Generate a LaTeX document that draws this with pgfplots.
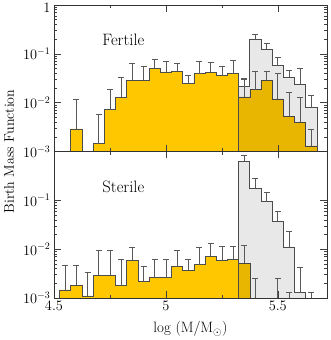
\documentclass[border=0pt]{standalone}
\usepackage{pgfplots}
\pgfplotsset{compat=1.18}
\usepgfplotslibrary{groupplots}
\definecolor{gold}{RGB}{255,199,0}
\begin{document}
\begin{tikzpicture}
\pgfplotsset{
  errb/.style={draw=none, mark=none, forget plot,
    error bars/.cd, y dir=plus, y explicit, error mark=|,
    error bar style={draw=black!65, line width=0.6pt, solid},
    error mark options={draw=black!65, mark size=3pt, line width=0.6pt, solid}},
  yel/.style={const plot, fill=gold, draw=black!70, line width=0.6pt},
  hat/.style={const plot, draw=black!70, line width=0.7pt,
    fill=black, fill opacity=0.09},
}
\begin{groupplot}[
  group style={group size=1 by 2, vertical sep=0pt},
  width=273pt, height=146.5pt, scale only axis,
  xmin=4.5, xmax=5.72, ymode=log, ymin=1e-3, ymax=1,
  xtick={4.5,5,5.5}, minor xtick={4.75,5.25},
  major tick length=7pt, minor tick length=3.5pt,
  tick style={black!75, line width=0.5pt},
  axis line style={black!80, line width=0.6pt},
  axis on top,
  ticklabel style={font=\fontsize{14.5}{16}\selectfont},
  label style={font=\fontsize{15}{17}\selectfont},
]
\nextgroupplot[xticklabels={}, ytick={1e-3,1e-2,1e-1,1},
  yticklabels={$10^{-3}$,$10^{-2}$,$10^{-1}$,\raisebox{-7pt}[0pt][0pt]{$1$}}]
\addplot[yel] coordinates {(4.575,0.001) (4.575,0.0029) (4.625,0.001) (4.675,0.00144)
  (4.725,0.0072) (4.775,0.0129) (4.825,0.0288) (4.875,0.0288) (4.925,0.0508)
  (4.975,0.0427) (5.025,0.0441) (5.075,0.0250) (5.125,0.0395) (5.175,0.042)
  (5.225,0.036) (5.275,0.0395) (5.325,0.0131) (5.375,0.0186) (5.425,0.0288)
  (5.475,0.0119) (5.525,0.0053) (5.575,0.0040) (5.625,0.0013) (5.675,0.001)} --cycle;
\addplot[hat] coordinates {(5.325,0.001) (5.325,0.0217) (5.375,0.200) (5.425,0.123)
  (5.475,0.0576) (5.525,0.0332) (5.575,0.024) (5.625,0.0079) (5.675,0.001)} --cycle;
\addplot[errb] coordinates {
  (4.60,0.0029) +- (0,0.0086)
  (4.70,0.00144) +- (0,0.00426)
  (4.75,0.0072) +- (0,0.0114)
  (4.80,0.0129) +- (0,0.0198)
  (4.85,0.0288) +- (0,0.0347)
  (4.90,0.0288) +- (0,0.0262)
  (4.95,0.0508) +- (0,0.0259)
  (5.00,0.0427) +- (0,0.027)
  (5.05,0.0441) +- (0,0.0209)
  (5.10,0.025) +- (0,0.011)
  (5.15,0.0395) +- (0,0.0325)
  (5.20,0.042) +- (0,0.0256)
  (5.25,0.036) +- (0,0.0207)
  (5.30,0.0395) +- (0,0.0347)
  (5.35,0.0131) +- (0,0.0169)
  (5.40,0.0186) +- (0,0.0254)
  (5.45,0.0288) +- (0,0.0142)
  (5.50,0.0119) +- (0,0.0276)
  (5.55,0.0053) +- (0,0.0107)
  (5.60,0.0040) +- (0,0.0087)
  (5.65,0.0013) +- (0,0.0016)};
\addplot[errb] coordinates {
  (5.35,0.0217) +- (0,0.0093)
  (5.40,0.200) +- (0,0.05)
  (5.45,0.123) +- (0,0.04)
  (5.50,0.0576) +- (0,0.0264)
  (5.55,0.0332) +- (0,0.0128)
  (5.60,0.024) +- (0,0.027)
  (5.65,0.0079) +- (0,0.0065)};
\node[font=\fontsize{16.5}{18}\selectfont] at (axis cs:4.81,0.19) {Fertile};
\coordinate (TR) at (rel axis cs:1,1);
\coordinate (MID) at (rel axis cs:0,0);
\nextgroupplot[ytick={1e-3,1e-2,1e-1},
  yticklabels={$10^{-3}$,$10^{-2}$,$10^{-1}$},
  xlabel={log (M/M$_\odot$)}, xlabel style={yshift=-4pt}]
\addplot[yel] coordinates {(4.525,0.001) (4.525,0.00146) (4.575,0.00182) (4.625,0.0011)
  (4.675,0.0029) (4.725,0.0029) (4.775,0.0018) (4.825,0.006) (4.875,0.0022)
  (4.925,0.0026) (4.975,0.0026) (5.025,0.0044) (5.075,0.0037) (5.125,0.0048)
  (5.175,0.007) (5.225,0.006) (5.275,0.0062) (5.325,0.0051) (5.375,0.001)} --cycle;
\addplot[hat] coordinates {(5.325,0.001) (5.325,0.625) (5.375,0.176) (5.425,0.094)
  (5.475,0.037) (5.525,0.0111) (5.575,0.00129) (5.625,0.001)} --cycle;
\addplot[errb] coordinates {
  (4.55,0.00146) +- (0,0.00314)
  (4.60,0.00182) +- (0,0.00278)
  (4.65,0.0011) +- (0,0.0022)
  (4.70,0.0029) +- (0,0.0064)
  (4.75,0.0029) +- (0,0.0064)
  (4.80,0.0018) +- (0,0.0044)
  (4.85,0.006) +- (0,0.0051)
  (4.90,0.0022) +- (0,0.0022)
  (4.95,0.0026) +- (0,0.0036)
  (5.00,0.0026) +- (0,0.0036)
  (5.05,0.0044) +- (0,0.0051)
  (5.10,0.0037) +- (0,0.0026)
  (5.15,0.0048) +- (0,0.006)
  (5.20,0.007) +- (0,0.0065)
  (5.25,0.006) +- (0,0.0055)
  (5.30,0.0062) +- (0,0.0053)
  (5.35,0.0051) +- (0,0.0067)
  (5.40,0.001) +- (0,0.0015)
  (5.50,0.001) +- (0,0.0015)
  (5.55,0.001) +- (0,0.0003)
  (5.65,0.001) +- (0,0.0003)};
\addplot[errb] coordinates {
  (5.35,0.625) +- (0,0.205)
  (5.40,0.176) +- (0,0.101)
  (5.45,0.094) +- (0,0.052)
  (5.50,0.037) +- (0,0.022)
  (5.55,0.0111) +- (0,0.0119)
  (5.60,0.00129) +- (0,0.0029)};
\node[font=\fontsize{16.5}{18}\selectfont] at (axis cs:4.81,0.19) {Sterile};
\coordinate (BL) at (rel axis cs:0,0);
\end{groupplot}
\pgfresetboundingbox
\path[use as bounding box] ([xshift=-54pt,yshift=-42pt]BL) rectangle ([xshift=4pt,yshift=5pt]TR);
\node[rotate=90, font=\fontsize{14}{16}\selectfont] at ([xshift=-45pt]MID) {Birth Mass Function};
\end{tikzpicture}
\end{document}
